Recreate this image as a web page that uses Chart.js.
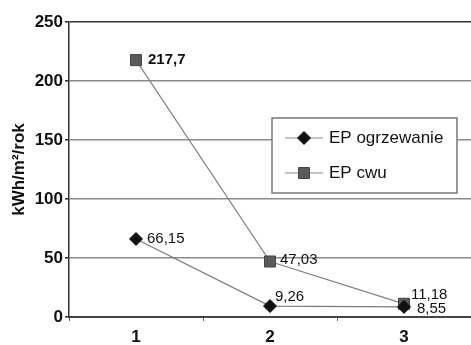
<!DOCTYPE html>
<html>
<head>
<meta charset="utf-8">
<script src="https://cdn.jsdelivr.net/npm/chart.js@4/dist/chart.umd.min.js"></script>
<style>
  html, body { margin: 0; padding: 0; background: #fff; overflow: hidden; }
  canvas { display: block; }
</style>
</head>
<body>
<canvas id="epChart" width="471" height="345"></canvas>
<script>
// Data
const categories = ['1', '2', '3'];
const epOgrzewanie = [66.15, 9.26, 8.55];
const epCwu = [217.7, 47.03, 11.18];
const seriesNames = ['EP ogrzewanie', 'EP cwu'];
const yTicks = [0, 50, 100, 150, 200, 250];

// Polish decimal comma for point labels
function fmt2(v, digits) {
    return v.toFixed(digits).replace('.', ',');
}

// label offsets relative to each point (dataset -> point)
const labelOffsets = [
    [[11, 0], [5, -9], [13, 2]],
    [[12, 0], [10, -2], [7, -9]]
];
const labelDigits = [[2, 2, 2], [1, 2, 2]];

const pointLabels = {
    id: 'pointLabels',
    afterDatasetsDraw(chart) {
        const ctx = chart.ctx;
        ctx.save();
        ctx.textBaseline = 'middle';
        ctx.textAlign = 'left';
        chart.data.datasets.forEach((ds, di) => {
            const meta = chart.getDatasetMeta(di);
            meta.data.forEach((pt, i) => {
                const bold = (di === 1 && i === 0);
                ctx.font = (bold ? 'bold ' : '') + '15px "Liberation Sans", Arial, sans-serif';
                ctx.fillStyle = '#111';
                const off = labelOffsets[di][i];
                ctx.fillText(fmt2(ds.data[i], labelDigits[di][i]), pt.x + off[0], pt.y + off[1]);
            });
        });
        ctx.restore();
    }
};

// boxed legend drawn over the plot, like the original
const boxLegend = {
    id: 'boxLegend',
    afterDraw(chart) {
        const ctx = chart.ctx;
        const x = 272, y = 118, w = 185, h = 75;
        ctx.save();
        ctx.fillStyle = '#fff';
        ctx.fillRect(x, y, w, h);
        ctx.strokeStyle = '#777';
        ctx.lineWidth = 1.5;
        ctx.strokeRect(x, y, w, h);
        ctx.font = '17px "Liberation Sans", Arial, sans-serif';
        ctx.textBaseline = 'middle';
        ctx.textAlign = 'left';
        chart.data.datasets.forEach((ds, di) => {
            const cy = y + 20 + di * 35;
            ctx.strokeStyle = '#888';
            ctx.lineWidth = 1;
            ctx.beginPath();
            ctx.moveTo(285, cy);
            ctx.lineTo(323, cy);
            ctx.stroke();
            ctx.fillStyle = ds.pointBackgroundColor;
            ctx.strokeStyle = ds.pointBorderColor;
            ctx.lineWidth = 1;
            Chart.helpers.drawPoint(ctx, {
                pointStyle: ds.pointStyle,
                radius: ds.pointRadius,
                borderWidth: 1
            }, 304, cy);
            ctx.fillStyle = '#111';
            ctx.fillText(ds.label, 329, cy);
        });
        ctx.restore();
    }
};

const ctx = document.getElementById('epChart').getContext('2d');
new Chart(ctx, {
    type: 'line',
    data: {
        labels: categories,
        datasets: [
            {
                label: seriesNames[0],
                data: epOgrzewanie,
                borderColor: '#7a7a7a',
                borderWidth: 1.2,
                pointStyle: 'rectRot',
                pointRadius: 6.5,
                pointBackgroundColor: '#111',
                pointBorderColor: '#111',
                pointBorderWidth: 1
            },
            {
                label: seriesNames[1],
                data: epCwu,
                borderColor: '#808080',
                borderWidth: 1.2,
                pointStyle: 'rect',
                pointRadius: 7.8,
                pointBackgroundColor: '#5a5a5a',
                pointBorderColor: '#444',
                pointBorderWidth: 1
            }
        ]
    },
    options: {
        responsive: false,
        animation: false,
        devicePixelRatio: 1,
        layout: { autoPadding: false, padding: { top: 22, right: 0, bottom: 0, left: 0 } },
        plugins: {
            legend: { display: false },
            tooltip: { enabled: false }
        },
        scales: {
            x: {
                offset: true,
                afterFit(scale) { scale.height = 28; },
                grid: {
                    offset: true,
                    drawOnChartArea: false,
                    tickLength: 4,
                    color: '#666'
                },
                border: { display: true, color: '#444', width: 2 },
                ticks: {
                    padding: 6,
                    color: '#111',
                    font: { family: '"Liberation Sans", Arial, sans-serif', size: 17, weight: 'bold' }
                }
            },
            y: {
                min: 0,
                max: 250,
                afterFit(scale) { scale.width = 69; },
                afterBuildTicks(scale) { scale.ticks = yTicks.map(v => ({ value: v })); },
                grid: {
                    color: (c) => c.tick && c.tick.value === 250 ? '#333' : '#8a8a8a',
                    lineWidth: 1.6,
                    tickLength: 4,
                    tickColor: '#333'
                },
                border: { display: true, color: '#333', width: 1.5 },
                ticks: {
                    padding: 2,
                    color: '#111',
                    font: { family: '"Liberation Sans", Arial, sans-serif', size: 17, weight: 'bold' }
                },
                title: {
                    display: true,
                    text: 'kWh/m²/rok',
                    color: '#111',
                    padding: { top: 9, bottom: 0 },
                    font: { family: '"Liberation Sans", Arial, sans-serif', size: 17, weight: 'bold' }
                }
            }
        }
    },
    plugins: [pointLabels, boxLegend]
});
</script>
</body>
</html>
